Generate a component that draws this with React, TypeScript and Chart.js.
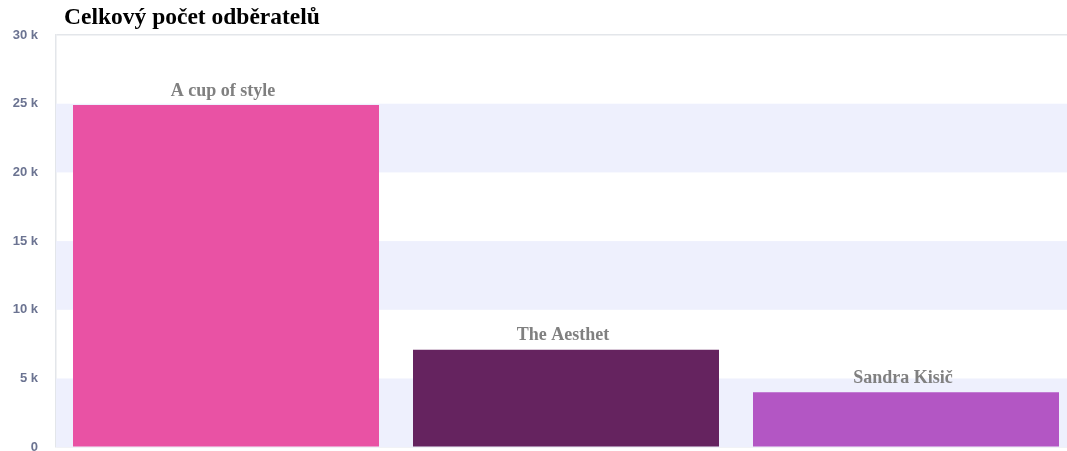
import React, { useEffect, useRef } from "react";
import { Chart, registerables } from "chart.js";

Chart.register(...registerables);

const titleText = "Celkový počet odběratelů";
const categories = ["A cup of style", "The Aesthet", "Sandra Kisič"];
const subscribers = [24900, 7100, 4000];
const barColors = ["#e952a4", "#65235f", "#b356c4"];
const yTicks = [0, 5000, 10000, 15000, 20000, 25000, 30000];

const bandPlugin = {
  id: "bands",
  beforeDatasetsDraw(chart: any) {
    const { ctx, chartArea, scales } = chart;
    const y = scales.y;
    ctx.save();
    ctx.fillStyle = "#eef0fd";
    for (let i = 0; i < yTicks.length - 1; i += 2) {
      const top = y.getPixelForValue(yTicks[i + 1]);
      const bottom = y.getPixelForValue(yTicks[i]);
      ctx.fillRect(chartArea.left, top, chartArea.right - chartArea.left, bottom - top);
    }
    ctx.restore();
  },
};

const labelPlugin = {
  id: "labels",
  afterDatasetsDraw(chart: any) {
    const { ctx } = chart;
    const meta = chart.getDatasetMeta(0);
    ctx.save();
    ctx.font = "bold 18px 'Liberation Serif'";
    ctx.fillStyle = "#808080";
    ctx.textAlign = "center";
    ctx.textBaseline = "middle";
    meta.data.forEach((bar: any, i: number) => {
      ctx.fillText(categories[i], bar.x - 3, bar.y - 14);
    });
    ctx.font = "bold 23.5px 'Liberation Serif'";
    ctx.fillStyle = "#000000";
    ctx.textAlign = "left";
    ctx.fillText(titleText, 64, 18);
    ctx.restore();
  },
};

export default function App() {
  const ref = useRef<HTMLCanvasElement>(null);
  useEffect(() => {
    document.body.style.margin = "0";
    document.body.style.overflow = "hidden";
    const chart = new Chart(ref.current!, {
      type: "bar",
      data: {
        labels: categories,
        datasets: [
          {
            data: subscribers,
            backgroundColor: barColors,
            borderWidth: 0,
            barPercentage: 0.9,
            categoryPercentage: 1,
          },
        ],
      },
      options: {
        animation: false,
        responsive: true,
        maintainAspectRatio: false,
        layout: { padding: { top: 35, bottom: 8, right: 4, left: 0 } },
        plugins: { legend: { display: false }, title: { display: false }, tooltip: { enabled: false } },
        scales: {
          x: { display: false },
          y: {
            min: 0,
            max: 30000,
            afterFit(scale: any) {
              scale.width = 56;
            },
            afterBuildTicks(scale: any) {
              scale.ticks = yTicks.map((v) => ({ value: v }));
            },
            ticks: {
              padding: 18,
              color: "#6b7391",
              font: { family: "'Liberation Sans'", size: 13, weight: "bold" },
              callback: (v: any) => (Number(v) === 0 ? "0" : Number(v) / 1000 + " k"),
            },
            grid: {
              drawTicks: false,
              color: (c: any) =>
                c.tick && (c.tick.value === 30000 || c.tick.value === 0) ? "#e3e6ea" : "rgba(0,0,0,0)",
              lineWidth: 1.5,
            },
            border: { display: true, color: "#e3e6ea", width: 1.5 },
          },
        },
      },
      plugins: [bandPlugin, labelPlugin],
    });
    return () => chart.destroy();
  }, []);
  return (
    <div style={{ position: "relative", width: 1080, height: 473 }}>
      <canvas ref={ref} />
    </div>
  );
}
